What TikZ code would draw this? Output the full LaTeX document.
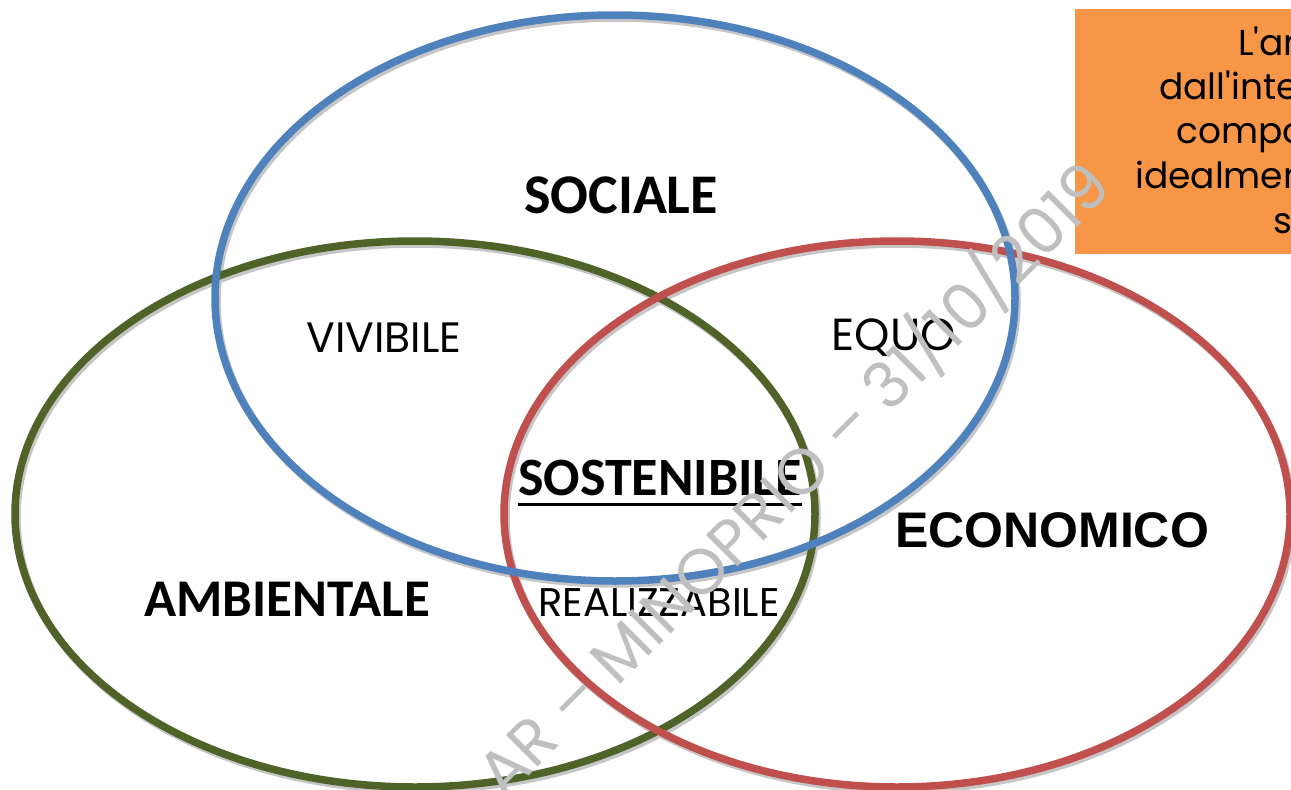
\documentclass[tikz,border=0pt]{standalone}
\usepackage{fontspec}
\setmainfont{Carlito}
\newfontfamily\carlito{Carlito}
\newfontfamily\arialb{Liberation Sans}
\newfontfamily\gothic{Poppins}
\definecolor{cblue}{HTML}{4F81BD}
\definecolor{cgreen}{HTML}{4F6228}
\definecolor{cred}{HTML}{C0504D}
\definecolor{corange}{HTML}{F79646}
\definecolor{wmark}{HTML}{BFBFBF}
\begin{document}
\begin{tikzpicture}[x=1pt,y=-1pt,
  ring/.style={line width=7.5pt},
  shade/.style={line width=7.5pt, draw=gray!45},
  bigbold/.style={inner sep=0pt, font=\carlito\bfseries\fontsize{54}{60}\selectfont},
  thin/.style={inner sep=0pt, font=\gothic\fontsize{40}{46}\selectfont},
  boxtxt/.style={inner sep=0pt, anchor=base west, font=\gothic\fontsize{36}{44}\selectfont}]
\useasboundingbox (0,0) rectangle (1291,790);
\clip (0,0) rectangle (1291,790);
% orange box
\fill[corange] (1075,9) rectangle (1300,254);
\node[boxtxt] (b1) at (1238,55) {L'am};
\node[boxtxt] (b2) at (1159,99) {dall'inte};
\node[boxtxt] (b3) at (1176,143) {compo};
\node[boxtxt] (b4) at (1135,188) {idealmen};
\node[boxtxt] (b5) at (1273,233) {s};
% shadows
\draw[shade] (417,517) ellipse [x radius=400, y radius=273];
\draw[shade] (899,517) ellipse [x radius=393, y radius=273];
\draw[shade] (617,301) ellipse [x radius=400, y radius=283];
% rings
\draw[ring, cgreen] (415,514) ellipse [x radius=400, y radius=273];
\draw[ring, cred] (897,514) ellipse [x radius=393, y radius=273];
\draw[ring, cblue] (615,298) ellipse [x radius=400, y radius=283];
% labels
\node[bigbold, font=\carlito\bfseries\fontsize{56}{60}\selectfont] (soc) at (621,195) {SOCIALE};
\node[bigbold, font=\carlito\bfseries\fontsize{53}{60}\selectfont] (amb) at (287,599) {AMBIENTALE};
\node[inner sep=0pt, font=\arialb\bfseries\fontsize{50}{54}\selectfont] (eco) at (1052,530) {ECONOMICO};
\node[bigbold] (sos) at (660,478) {SOSTENIBILE};
\draw[line width=3.5pt] ([yshift=-9pt]sos.base west) -- ([yshift=-9pt]sos.base east);
\node[thin, font=\gothic\fontsize{42.5}{46}\selectfont] (viv) at (384,338) {VIVIBILE};
\node[thin, font=\gothic\fontsize{45}{46}\selectfont] (equ) at (894,338) {EQUO};
\node[thin] (rea) at (659,603) {REALIZZABILE};
% watermark
\node[inner sep=0pt, text=wmark, rotate=45, font=\gothic\fontsize{64}{70}\selectfont] (wm) at (792,478) {AR – MINOPRIO – 31/10/2019};
\end{tikzpicture}
\end{document}
